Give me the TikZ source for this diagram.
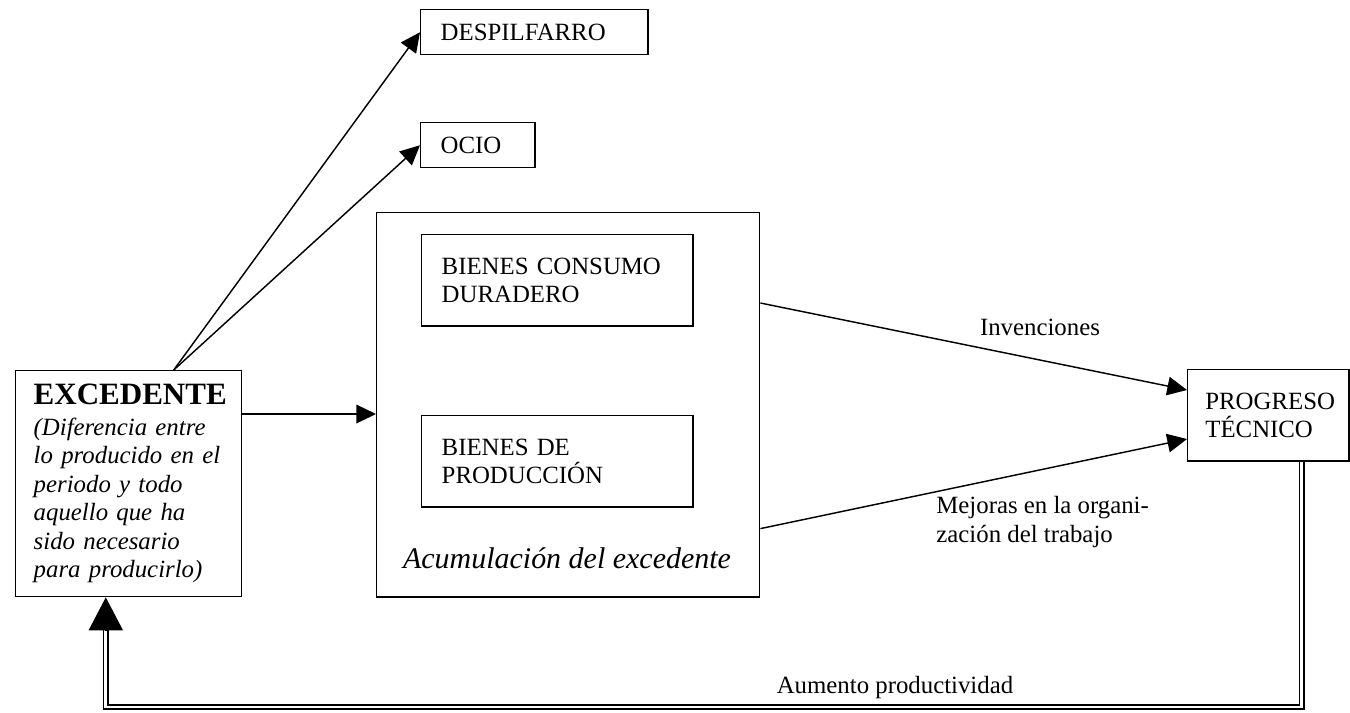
\documentclass[tikz,border=0pt]{standalone}
\usepackage{fontspec}
\setmainfont{Liberation Serif}
\usetikzlibrary{arrows.meta,positioning}

\begin{document}
\begin{tikzpicture}[x=0.017cm, y=-0.017cm, font=\fontsize{12}{13.8}\selectfont,
    caja/.style={draw, line width=0.7pt, anchor=north west, align=left, inner xsep=0.34cm, inner ysep=0pt},
    flecha/.style={-{Triangle[length=9.5pt,width=9pt]}, line width=0.7pt},
    grande/.style={-{Triangle[length=0.56cm,width=0.58cm]}, line width=0.7pt},
    retro/.style={double, double distance=1.4pt, line width=0.8pt}]
    \useasboundingbox (0,0) rectangle (1350,712);
    % destinos del excedente
    \node[caja, text width=3.18cm, minimum width=3.86cm, minimum height=0.765cm] (desp) at (420,9) {DESPILFARRO};
    \node[caja, text width=1.26cm, minimum width=1.94cm, minimum height=0.765cm] (ocio) at (420,122) {OCIO};
    \node[draw, line width=0.7pt, anchor=north west, minimum width=6.51cm, minimum height=6.53cm] (acum) at (376,212) {};
    \node[caja, text width=3.93cm, minimum width=4.61cm, minimum height=1.55cm] (cons) at (421,234) {BIENES CONSUMO\\DURADERO};
    \node[caja, text width=3.93cm, minimum width=4.61cm, minimum height=1.55cm] (prod) at (421,415) {BIENES DE\\PRODUCCIÓN};
    \node[font=\fontsize{14.5}{16}\selectfont\itshape] (acumtxt) at (567,558) {Acumulación del excedente};
    \node[caja, inner xsep=0.306cm, text width=3.23cm, minimum width=3.84cm, minimum height=3.84cm] (exc) at (15,370)
        {{\fontsize{15}{17}\selectfont\bfseries EXCEDENTE}\\[1pt]
         \itshape (Diferencia entre\\lo producido en el\\periodo y todo\\aquello que ha\\sido necesario\\para producirlo)};
    \node[caja, inner xsep=0.3cm, text width=2.14cm, minimum width=2.74cm, minimum height=1.55cm] (prog) at (1187,369) {PROGRESO\\TÉCNICO};

    % etiquetas
    \node (inv) at (1040,327) {Invenciones};
    \node[anchor=west, align=left, inner sep=0pt] (mej) at (936,522) {Mejoras en la organi-\\zación del trabajo};
    \node (aum) at (895,688) {Aumento productividad};

    % flechas
    \foreach \destino in {desp, ocio}
        \draw[flecha] ([xshift=0.765cm]exc.north) -- (\destino.west);
    \coordinate (e1) at ([yshift=-0.748cm]exc.north east);
    \draw[flecha] (e1) -- (e1 -| acum.west);
    \draw[flecha] ([yshift=-1.547cm]acum.north east) -- ([yshift=-0.357cm]prog.north west);
    \draw[flecha] ([yshift=1.173cm]acum.south east) -- ([yshift=-1.19cm]prog.north west);

    % realimentacion
    \coordinate (r1) at ([xshift=0.57cm]prog.south);
    \coordinate (l1) at ([xshift=-0.39cm]exc.south);
    \coordinate (base) at (0,707);
    \draw[retro, shorten >=0.4cm] (r1) -- (r1 |- base) -| (l1);
    \draw[grande] ([yshift=-0.56cm]l1) -- (l1);
\end{tikzpicture}
\end{document}
